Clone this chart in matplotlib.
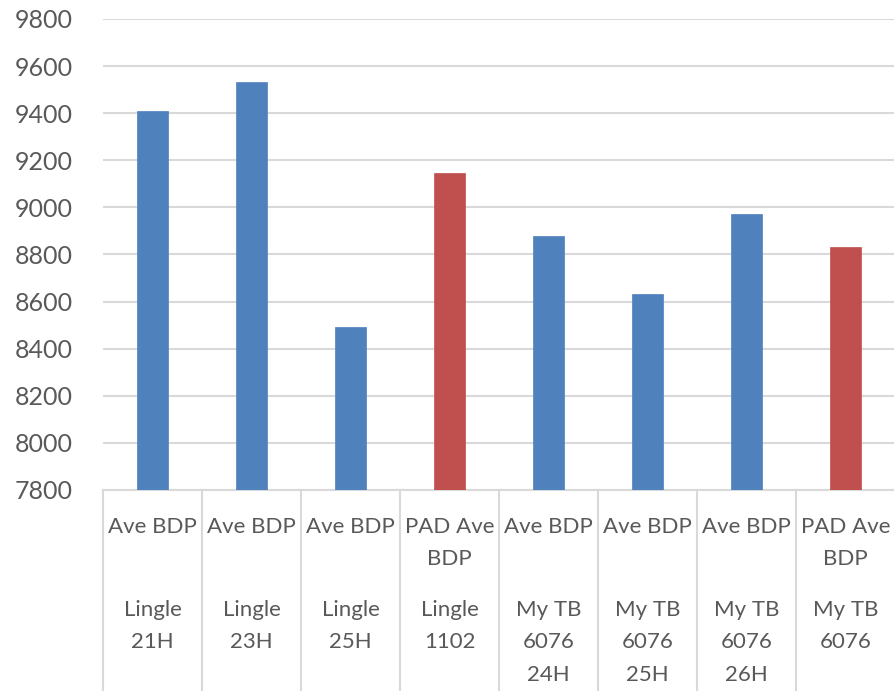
import matplotlib.pyplot as plt

# data
series_labels = ["Ave BDP", "Ave BDP", "Ave BDP", "PAD Ave\nBDP",
                 "Ave BDP", "Ave BDP", "Ave BDP", "PAD Ave\nBDP"]
group_labels = ["Lingle\n21H", "Lingle\n23H", "Lingle\n25H", "Lingle\n1102",
                "My TB\n6076\n24H", "My TB\n6076\n25H", "My TB\n6076\n26H", "My TB\n6076"]
values = [9408, 9533, 8494, 9147, 8880, 8634, 8973, 8830]
is_pad = [False, False, False, True, False, False, False, True]
yticks = list(range(7800, 9801, 200))

BLUE = "#4f81bd"
RED = "#c0504d"
GRID = "#d9d9d9"
TXT = "#595959"

W, H = 895, 691
plt.rcParams["font.family"] = ["Lato", "DejaVu Sans"]

fig = plt.figure(figsize=(W / 100, H / 100), dpi=100)
ax = fig.add_axes([103 / W, 1 - 490 / H, 1 - 103 / W, (490 - 19) / H])

x = list(range(len(values)))
colors = [RED if p else BLUE for p in is_pad]
ax.bar(x, [v - 7800 for v in values], bottom=7800, width=0.31,
       color=colors, edgecolor=[c for c in colors], linewidth=0.5, zorder=3)

ax.set_xlim(-0.5, len(values) - 0.5)
ax.set_ylim(7800, 9800)
ax.set_yticks(yticks)
ax.set_yticklabels([str(t) for t in yticks], fontsize=18, color=TXT)
ax.tick_params(axis="y", length=0, pad=22)
ax.tick_params(axis="x", length=0, labelbottom=False)
ax.grid(axis="y", color=GRID, linewidth=1.5, zorder=0)
ax.set_axisbelow(True)
for s in ["left", "right", "top"]:
    ax.spines[s].set_visible(False)
ax.spines["bottom"].set_color(GRID)
ax.spines["bottom"].set_linewidth(1.5)

# multi-level category axis
trans = ax.get_xaxis_transform()
bottom_ax = -(H - 490) / (490 - 19)
for k in range(len(values) + 1):
    ax.plot([k - 0.5, k - 0.5], [0, bottom_ax], transform=trans,
            color=GRID, linewidth=1.5, clip_on=False)

for i in x:
    ax.text(i, -(517 - 490) / (490 - 19), series_labels[i], transform=trans,
            ha="center", va="top", fontsize=16, color=TXT, linespacing=1.78,
            multialignment="center")
    ax.text(i, -(600 - 490) / (490 - 19), group_labels[i], transform=trans,
            ha="center", va="top", fontsize=16, color=TXT, linespacing=1.78,
            multialignment="center")

fig.savefig("out.png", dpi=100)
